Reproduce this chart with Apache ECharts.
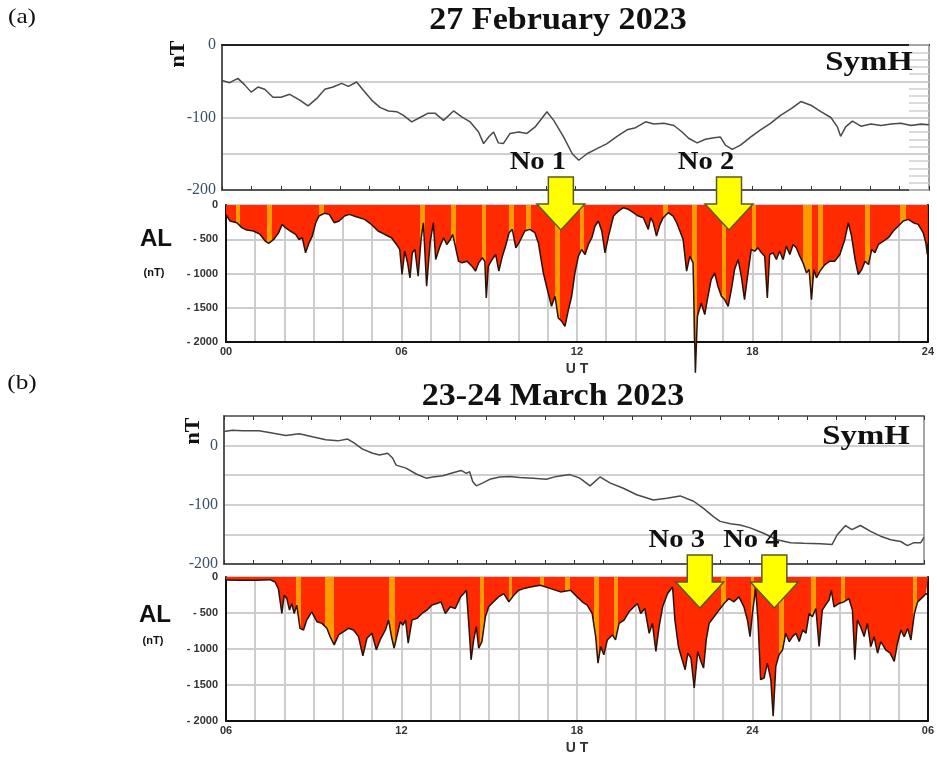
<!DOCTYPE html>
<html>
<head>
<meta charset="utf-8">
<title>SymH and AL</title>
<script src="https://cdn.jsdelivr.net/npm/echarts@6.0.0/dist/echarts.min.js"></script>
<style>
  html, body { margin: 0; padding: 0; background: #fff; }
  #chart { width: 937px; height: 758px; }
</style>
</head>
<body>
<div id="chart"></div>
<script>
// ---- (a) 27 February 2023 ----
const symhAHours = [0, 0.26, 0.54, 0.77, 0.99, 1.22, 1.45, 1.73, 2.0, 2.3, 2.64, 2.92, 3.21, 3.49, 3.77, 4.06, 4.29, 4.57, 4.79, 5.08, 5.36, 5.65, 5.93, 6.16, 6.44, 6.72, 7.0, 7.23, 7.52, 7.86, 8.14, 8.42, 8.71, 8.88, 9.05, 9.22, 9.38, 9.55, 9.78, 10.07, 10.35, 10.63, 11.03, 11.26, 11.6, 11.89, 12.11, 12.39, 12.73, 13.07, 13.41, 13.75, 14.04, 14.38, 14.66, 15.0, 15.34, 15.62, 15.85, 16.13, 16.41, 16.7, 16.92, 17.09, 17.32, 17.6, 17.94, 18.28, 18.62, 18.96, 19.31, 19.65, 19.99, 20.33, 20.67, 20.89, 21.0, 21.17, 21.4, 21.69, 22.03, 22.37, 22.71, 23.05, 23.39, 23.73, 24.0]
const symhAValues = [-49, -52, -46, -55, -65, -58, -61, -72, -72, -68, -76, -84, -74, -61, -58, -53, -57, -51, -62, -76, -86, -91, -92, -97, -106, -100, -94, -94, -104, -91, -99, -106, -120, -136, -127, -120, -135, -136, -122, -120, -122, -113, -92, -104, -127, -150, -159, -150, -143, -136, -126, -117, -114, -106, -109, -108, -111, -120, -129, -135, -130, -128, -127, -138, -144, -138, -127, -117, -108, -97, -88, -78, -83, -92, -100, -113, -126, -113, -105, -112, -109, -111, -109, -108, -111, -109, -110]

const alAHours = [0, 0.14, 0.37, 0.54, 0.71, 0.94, 1.17, 1.34, 1.46, 1.63, 1.8, 1.92, 2.03, 2.2, 2.38, 2.49, 2.61, 2.72, 2.84, 2.95, 3.07, 3.18, 3.36, 3.53, 3.7, 3.87, 4.05, 4.22, 4.45, 4.74, 4.97, 5.2, 5.43, 5.66, 5.83, 5.94, 6.02, 6.11, 6.21, 6.29, 6.37, 6.46, 6.57, 6.67, 6.75, 6.86, 6.98, 7.09, 7.17, 7.32, 7.44, 7.55, 7.67, 7.75, 7.84, 7.95, 8.07, 8.24, 8.41, 8.53, 8.64, 8.76, 8.85, 8.9, 8.97, 9.1, 9.22, 9.33, 9.45, 9.56, 9.68, 9.79, 9.91, 10.02, 10.22, 10.39, 10.56, 10.68, 10.85, 10.96, 11.13, 11.25, 11.36, 11.48, 11.59, 11.71, 11.82, 11.93, 12.05, 12.16, 12.28, 12.39, 12.51, 12.62, 12.73, 12.85, 12.96, 13.08, 13.25, 13.42, 13.59, 13.76, 13.93, 14.1, 14.27, 14.44, 14.52, 14.61, 14.72, 14.84, 14.95, 15.12, 15.29, 15.41, 15.52, 15.63, 15.75, 15.86, 15.97, 16.05, 16.12, 16.25, 16.37, 16.48, 16.59, 16.71, 16.82, 16.94, 17.05, 17.17, 17.28, 17.39, 17.51, 17.62, 17.73, 17.85, 17.96, 18.08, 18.19, 18.31, 18.42, 18.51, 18.59, 18.71, 18.82, 18.93, 19.05, 19.16, 19.28, 19.39, 19.5, 19.62, 19.73, 19.85, 19.94, 20.02, 20.1, 20.19, 20.31, 20.48, 20.65, 20.82, 20.99, 21.16, 21.28, 21.39, 21.51, 21.62, 21.74, 21.85, 21.97, 22.08, 22.19, 22.31, 22.48, 22.65, 22.82, 22.99, 23.16, 23.33, 23.5, 23.67, 23.84, 23.93, 23.98, 24.0]
const alAValues = [-140, -234, -260, -330, -366, -380, -430, -527, -561, -503, -405, -283, -332, -380, -430, -503, -478, -698, -551, -454, -259, -161, -122, -137, -259, -234, -161, -137, -171, -210, -283, -380, -430, -478, -576, -649, -1015, -673, -844, -1064, -698, -649, -1039, -503, -259, -1186, -551, -259, -795, -600, -478, -576, -503, -430, -600, -820, -844, -820, -893, -966, -844, -771, -820, -1357, -893, -795, -722, -966, -747, -600, -405, -356, -625, -551, -380, -356, -405, -551, -991, -1186, -1479, -1332, -1649, -1698, -1771, -1527, -1332, -991, -747, -649, -722, -576, -478, -307, -234, -380, -698, -454, -161, -88, -39, -63, -112, -161, -185, -356, -185, -259, -454, -283, -185, -112, -161, -259, -380, -503, -966, -747, -844, -2450, -1625, -1430, -1600, -1332, -1088, -991, -1186, -1332, -1381, -1479, -1235, -942, -795, -1039, -1381, -991, -649, -673, -625, -698, -747, -1357, -722, -698, -795, -673, -795, -600, -722, -576, -625, -747, -844, -991, -942, -1381, -942, -1064, -966, -869, -820, -820, -722, -503, -259, -454, -795, -1015, -942, -820, -869, -649, -698, -576, -527, -478, -380, -307, -234, -210, -259, -283, -405, -551, -722, -560]
// orange bands inside the AL fill (hour ranges)
const alAStripes = [[0.34, 0.48], [1.40, 1.57], [3.18, 3.36], [6.63, 6.8], [7.7, 7.86], [8.74, 8.9], [9.68, 9.85], [10.25, 10.42], [11.24, 11.42], [12.1, 12.25], [14.95, 15.1], [15.95, 16.12], [16.96, 17.1], [17.97, 18.12], [19.73, 20.05], [20.25, 20.42], [21.85, 22.02], [23.04, 23.25]]

// ---- (b) 23-24 March 2023 ----
const symhBHours = [6.0, 6.29, 6.63, 7.2, 7.55, 8.12, 8.58, 9.03, 9.49, 9.9, 10.24, 10.47, 10.75, 11.1, 11.33, 11.61, 11.78, 11.9, 12.24, 12.59, 12.93, 13.16, 13.5, 13.85, 14.13, 14.31, 14.42, 14.53, 14.65, 14.88, 15.11, 15.45, 15.8, 16.14, 16.6, 17.05, 17.4, 17.86, 18.2, 18.55, 18.89, 19.23, 19.69, 20.15, 20.72, 21.18, 21.64, 22.1, 22.44, 22.78, 23.01, 23.36, 23.7, 24.04, 24.5, 24.96, 25.42, 25.87, 26.45, 26.85, 27.02, 27.31, 27.53, 27.82, 28.17, 28.51, 28.86, 29.2, 29.43, 29.66, 29.89, 30.0]
const symhBValues = [24, 26, 25, 25, 22, 17, 20, 15, 10, 8, 11, 4, -6, -13, -16, -13, -21, -33, -38, -48, -55, -53, -51, -46, -42, -47, -44, -61, -68, -63, -57, -53, -52, -54, -55, -57, -52, -49, -55, -68, -53, -63, -72, -83, -92, -89, -85, -94, -106, -120, -128, -132, -134, -139, -148, -159, -164, -165, -166, -167, -151, -135, -142, -135, -145, -153, -159, -162, -169, -164, -164, -155]

const alBHours = [6.0, 6.5, 7.05, 7.5, 7.68, 7.79, 7.91, 7.99, 8.08, 8.17, 8.25, 8.33, 8.42, 8.53, 8.65, 8.76, 8.93, 9.11, 9.28, 9.45, 9.56, 9.7, 9.85, 10.02, 10.19, 10.36, 10.53, 10.68, 10.82, 10.99, 11.14, 11.27, 11.45, 11.56, 11.67, 11.75, 11.84, 11.96, 12.05, 12.14, 12.23, 12.36, 12.53, 12.7, 12.87, 13.04, 13.21, 13.35, 13.5, 13.67, 13.84, 14.02, 14.13, 14.22, 14.3, 14.38, 14.47, 14.56, 14.64, 14.75, 14.87, 14.98, 15.15, 15.32, 15.5, 15.67, 15.84, 16.01, 16.18, 16.41, 16.75, 17.1, 17.44, 17.78, 18.01, 18.18, 18.35, 18.52, 18.64, 18.72, 18.81, 18.92, 19.04, 19.21, 19.32, 19.44, 19.61, 19.78, 19.95, 20.07, 20.18, 20.32, 20.47, 20.58, 20.7, 20.81, 20.93, 21.1, 21.27, 21.35, 21.47, 21.58, 21.7, 21.79, 21.9, 22.01, 22.13, 22.24, 22.33, 22.42, 22.52, 22.69, 22.86, 23.03, 23.2, 23.37, 23.54, 23.71, 23.83, 23.92, 24.0, 24.11, 24.19, 24.28, 24.4, 24.51, 24.63, 24.71, 24.8, 24.91, 25.03, 25.14, 25.26, 25.37, 25.49, 25.6, 25.72, 25.83, 25.94, 26.05, 26.17, 26.28, 26.39, 26.5, 26.62, 26.7, 26.79, 26.96, 27.13, 27.3, 27.42, 27.5, 27.59, 27.7, 27.82, 27.93, 28.05, 28.16, 28.28, 28.39, 28.56, 28.71, 28.85, 28.96, 29.08, 29.19, 29.31, 29.42, 29.54, 29.65, 29.83, 29.94, 30.0]
const alBValues = [-40, -45, -46, -37, -69, -161, -506, -253, -299, -460, -368, -506, -391, -713, -736, -598, -483, -621, -644, -713, -828, -943, -805, -759, -713, -736, -828, -1095, -851, -782, -1012, -874, -736, -598, -851, -989, -828, -621, -667, -598, -920, -598, -575, -506, -460, -391, -368, -345, -506, -414, -437, -276, -230, -184, -644, -1150, -874, -690, -989, -897, -552, -414, -345, -276, -230, -345, -253, -184, -161, -138, -115, -161, -207, -184, -276, -345, -391, -506, -828, -1196, -966, -1081, -874, -805, -874, -644, -598, -483, -414, -368, -506, -437, -782, -644, -1035, -690, -414, -230, -138, -598, -966, -1127, -1288, -1058, -1127, -1541, -1035, -1173, -1265, -874, -644, -552, -460, -368, -299, -345, -276, -414, -598, -828, -506, -161, -598, -1426, -1403, -1196, -1426, -1932, -1242, -1081, -1012, -782, -897, -828, -782, -897, -736, -782, -506, -552, -437, -966, -460, -391, -322, -184, -414, -368, -345, -299, -460, -1150, -598, -690, -828, -644, -966, -828, -1058, -897, -1012, -1058, -1173, -920, -736, -828, -713, -874, -506, -345, -276, -230, -253]
const alBStripes = [[8.38, 8.57], [9.39, 9.7], [11.59, 11.79], [14.67, 14.83], [15.67, 15.78], [16.75, 16.87], [17.6, 17.75], [18.58, 18.75], [19.26, 19.41], [22.94, 23.08], [23.94, 24.07], [24.91, 25.08], [26.0, 26.17], [27.02, 27.15], [29.48, 29.63]]

// event arrows: hour, AL value at the arrow tip, label
const arrowHoursA = [11.45, 17.2]
const arrowLabelsA = ['No 1', 'No 2']
const arrowHoursB = [22.2, 24.75]
const arrowLabelsB = ['No 3', 'No 4']
const arrowTipA = -365
const arrowTipB = -430

const RED = '#ff2a00'
const ORANGE = '#ff9a00'
const SERIF = '"Liberation Serif", "Times New Roman", serif'
const SANS = '"Liberation Sans", Arial, sans-serif'

const zip = (h, v) => h.map((x, i) => [x, v[i]])

const chart = echarts.init(document.getElementById('chart'))

// 时间轴标签：00 06 12 18 24 (06)
const hourLabel = (v) => {
  if (v % 6 !== 0) return ''
  const h = v > 24 ? v - 24 : v
  return (h < 10 ? '0' : '') + h
}
const alLabel = (v) => (v === 0 ? '0' : '- ' + Math.abs(v))
const symhLabel = (v) => (v % 100 === 0 && v <= 0 ? String(v) : '')

// SymH 面板的 X 轴（只有刻度）
const symhX = (grid, min, max, pos) => ({
  type: 'value', gridIndex: grid, min: min, max: max, interval: 1, position: pos || 'bottom',
  axisLine: { show: true, onZero: false, lineStyle: { color: '#555', width: pos === 'top' ? 1.5 : 2 } },
  axisTick: { show: true, inside: true, length: 4, lineStyle: { color: '#333' } },
  axisLabel: { show: false },
  splitLine: { show: false }
})
// AL 面板的 X 轴
const alX = (grid, min, max) => ({
  type: 'value', gridIndex: grid, min: min, max: max, interval: 1,
  name: 'U T', nameLocation: 'middle', nameGap: 20,
  nameTextStyle: { fontFamily: SANS, fontWeight: 'bold', fontSize: 14, color: '#333' },
  axisLine: { show: true, onZero: false, lineStyle: { color: '#111', width: 2 } },
  axisTick: { show: false },
  axisLabel: { formatter: hourLabel, fontFamily: SANS, fontWeight: 'bold', fontSize: 11, color: '#333', margin: 4, showMinLabel: true, showMaxLabel: true },
  splitLine: { show: true, lineStyle: { color: '#cdcdcd', width: 2 } }
})
const symhY = (grid, min, max) => ({
  type: 'value', gridIndex: grid, min: min, max: max, interval: 50,
  axisLine: { show: true, onZero: false, lineStyle: { color: '#555', width: 2 } },
  axisTick: { show: false },
  axisLabel: { formatter: symhLabel, fontFamily: SERIF, fontSize: 16, color: '#3c5068', margin: 6 },
  splitLine: { show: true, lineStyle: { color: '#d0d0d0', width: 2 } }
})
const alY = (grid) => ({
  type: 'value', gridIndex: grid, min: -2000, max: 0, interval: 500,
  axisLine: { show: true, onZero: false, lineStyle: { color: '#111', width: 2 } },
  axisTick: { show: false },
  axisLabel: { formatter: alLabel, fontFamily: SANS, fontWeight: 'bold', fontSize: 11, color: '#333', margin: 8 },
  splitLine: { show: true, lineStyle: { color: '#cdcdcd', width: 2 } }
})
const rightEdge = (grid, min, max, color, width) => ({
  type: 'value', gridIndex: grid, min: min, max: max, position: 'right',
  axisLine: { show: true, onZero: false, lineStyle: { color: color, width: width } },
  axisTick: { show: false }, axisLabel: { show: false }, splitLine: { show: false }
})

const symhSeries = (xi, yi, data) => ({
  type: 'line', xAxisIndex: xi, yAxisIndex: yi, data: data,
  showSymbol: false, silent: true,
  lineStyle: { color: '#4a4a4a', width: 1.5 }
})
const alSeries = (xi, yi, data) => ({
  type: 'line', xAxisIndex: xi, yAxisIndex: yi, data: data,
  showSymbol: false, silent: true, clip: false,
  lineStyle: { color: '#2a1208', width: 1.5 },
  areaStyle: { origin: 'end', opacity: 1 }
})
const stripeMap = (seriesIndex, stripes) => ({
  type: 'piecewise', show: false, seriesIndex: seriesIndex, dimension: 0,
  pieces: stripes.map((s) => ({ gte: s[0], lte: s[1], color: ORANGE })),
  outOfRange: { color: RED }
})

chart.setOption({
  animation: false,
  backgroundColor: '#fff',
  grid: [
    { left: 222, top: 45, width: 707, height: 145 },
    { left: 226, top: 205, width: 702, height: 137 },
    { left: 224, top: 416, width: 700, height: 148 },
    { left: 226, top: 577, width: 702, height: 144 }
  ],
  xAxis: [
    symhX(0, 0, 24),
    alX(1, 0, 24),
    symhX(2, 6, 30),
    alX(3, 6, 30),
    symhX(2, 6, 30, 'top'),
    Object.assign(symhX(0, 0, 24, 'top'), { axisTick: { show: false }, axisLine: { show: true, onZero: false, lineStyle: { color: '#222', width: 2 } } }),
    Object.assign(symhX(3, 6, 30, 'top'), { axisTick: { show: false }, axisLine: { show: true, onZero: false, lineStyle: { color: '#333', width: 1 } } })
  ],
  yAxis: [
    symhY(0, -200, 0),
    alY(1),
    symhY(2, -200, 50),
    alY(3),
    {
      // 右侧短刻度
      type: 'value', gridIndex: 0, min: -200, max: 0, interval: 10, position: 'right',
      axisLine: { show: true, onZero: false, lineStyle: { color: '#888', width: 1.5 } },
      axisTick: { show: true, inside: true, length: 20, lineStyle: { color: '#cfcfcf', width: 1.5 } },
      axisLabel: { show: false }, splitLine: { show: false }
    },
    rightEdge(1, -2000, 0, '#111', 2),
    rightEdge(2, -200, 50, '#888', 1.5),
    rightEdge(3, -2000, 0, '#111', 2)
  ],
  visualMap: [stripeMap(1, alAStripes), stripeMap(3, alBStripes)],
  series: [
    symhSeries(0, 0, zip(symhAHours, symhAValues)),
    alSeries(1, 1, zip(alAHours, alAValues)),
    symhSeries(2, 2, zip(symhBHours, symhBValues)),
    alSeries(3, 3, zip(alBHours, alBValues))
  ]
})

// ---- 文字与箭头 ----
const text = (x, y, str, font, opts) => Object.assign({
  type: 'text', x: x, y: y, z: 100,
  style: { text: str, font: font, fill: '#111', textAlign: 'center', textVerticalAlign: 'middle' }
}, opts || {})

const arrowShape = (cx, tip) => [
  [cx - 12.5, tip - 53], [cx + 12.5, tip - 53], [cx + 12.5, tip - 26], [cx + 24, tip - 26],
  [cx, tip], [cx - 24, tip - 26], [cx - 12.5, tip - 26]
]

const graphics = [
  text(22, 17, '(a)', '22px ' + SERIF, { scaleX: 1.15 }),
  text(22, 383, '(b)', '22px ' + SERIF, { scaleX: 1.15 }),
  text(558, 21, '27 February 2023', 'bold 31px ' + SERIF, { scaleX: 1.1 }),
  text(553, 397, '23-24 March 2023', 'bold 31px ' + SERIF, { scaleX: 1.1 }),
  text(869, 63, 'SymH', 'bold 28px ' + SERIF, { scaleX: 1.17 }),
  text(866, 437, 'SymH', 'bold 28px ' + SERIF, { scaleX: 1.17 }),
  text(178, 54, 'nT', 'bold 22px ' + SERIF, { rotation: Math.PI / 2 }),
  text(193, 431, 'nT', 'bold 22px ' + SERIF, { rotation: Math.PI / 2 }),
  text(156, 240, 'AL', 'bold 23px ' + SANS, { scaleX: 1.05 }),
  text(154, 273, '(nT)', 'bold 11px ' + SANS),
  text(155, 616, 'AL', 'bold 23px ' + SANS, { scaleX: 1.05 }),
  text(153, 641, '(nT)', 'bold 11px ' + SANS)
]

const addArrows = (xAxisIndex, yAxisIndex, hours, labels, tipValue) => {
  const tip = chart.convertToPixel({ yAxisIndex: yAxisIndex }, tipValue)
  hours.forEach((h, i) => {
    const cx = chart.convertToPixel({ xAxisIndex: xAxisIndex }, h)
    graphics.push({
      type: 'polygon', z: 110,
      shape: { points: arrowShape(cx, tip) },
      style: { fill: '#ffff00', stroke: '#5a5a20', lineWidth: 1.5 }
    })
    graphics.push(text(cx - 23, tip - 68, labels[i], 'bold 26px ' + SERIF, { scaleX: 1.1, z: 120 }))
  })
}
addArrows(1, 1, arrowHoursA, arrowLabelsA, arrowTipA)
addArrows(3, 3, arrowHoursB, arrowLabelsB, arrowTipB)

chart.setOption({ graphic: graphics })
</script>
</body>
</html>
